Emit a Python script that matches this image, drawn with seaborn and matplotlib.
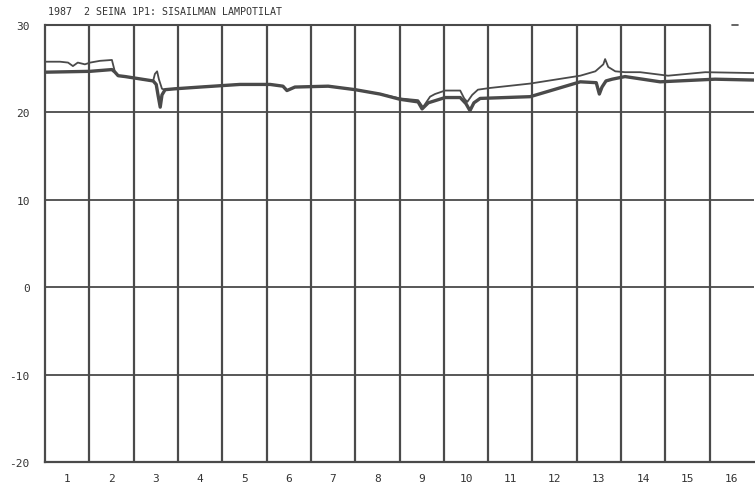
import matplotlib
matplotlib.use("Agg")
import matplotlib.pyplot as plt
import seaborn as sns
import pandas as pd

# Indoor air temperatures, time in days from start of the record
upper_days = [0.00, 0.34, 0.52, 0.63, 0.74, 0.90, 1.02, 1.24, 1.51, 1.58, 1.65, 1.81,
              2.44, 2.48, 2.53, 2.57, 2.64, 2.71, 2.93, 3.50, 4.40, 5.08, 5.37, 5.46,
              5.64, 6.39, 7.00, 7.56, 8.01, 8.42, 8.53, 8.69, 8.80, 9.03, 9.37, 9.46,
              9.53, 9.64, 9.77, 10.05, 10.95, 12.08, 12.42, 12.60, 12.64, 12.71, 12.87,
              13.09, 13.43, 14.06, 14.90, 16.00]
upper_temp = [25.8, 25.8, 25.7, 25.3, 25.7, 25.5, 25.7, 25.9, 26.0, 24.6, 24.2, 24.1,
              23.6, 24.4, 24.7, 23.8, 22.7, 22.6, 22.7, 22.9, 23.2, 23.2, 23.0, 22.5,
              22.9, 23.0, 22.6, 22.1, 21.6, 21.4, 20.6, 21.8, 22.1, 22.5, 22.5, 21.6,
              21.2, 22.0, 22.6, 22.8, 23.3, 24.2, 24.7, 25.5, 26.1, 25.2, 24.7,
              24.6, 24.6, 24.2, 24.6, 24.5]

lower_days = [0.00, 1.02, 1.51, 1.58, 1.65, 1.81, 2.44, 2.51, 2.55, 2.60, 2.64, 2.71,
              2.93, 3.50, 4.40, 5.08, 5.37, 5.46, 5.64, 6.39, 7.00, 7.56, 8.01, 8.42,
              8.51, 8.65, 9.03, 9.37, 9.50, 9.59, 9.68, 9.82, 10.95, 12.08, 12.44,
              12.51, 12.57, 12.66, 12.80, 13.09, 13.88, 15.12, 16.00]
lower_temp = [24.6, 24.7, 24.9, 24.6, 24.2, 24.1, 23.6, 23.2, 22.0, 20.6, 22.0, 22.6,
              22.7, 22.9, 23.2, 23.2, 23.0, 22.5, 22.9, 23.0, 22.6, 22.1, 21.5, 21.2,
              20.4, 21.1, 21.7, 21.7, 21.0, 20.2, 21.1, 21.6, 21.8, 23.5, 23.4,
              22.1, 22.9, 23.6, 23.8, 24.1, 23.5, 23.8, 23.7]

day_labels = [str(d) for d in range(1, 17)]
y_ticks = [30, 20, 10, 0, -10, -20]
title = "1987  2 SEINA 1P1: SISAILMAN LAMPOTILAT"

sns.set_style("white")
plt.rcParams["font.family"] = ["DejaVu Sans Mono"]

ink = "#4a4a4a"
fig = plt.figure(figsize=(7.55, 4.89), dpi=100)
ax = fig.add_axes([45 / 755, 26 / 489, 709 / 755, 437 / 489])

df_up = pd.DataFrame({"day": upper_days, "temp": upper_temp})
df_lo = pd.DataFrame({"day": lower_days, "temp": lower_temp})
sns.lineplot(data=df_up, x="day", y="temp", ax=ax, sort=False,
             color=ink, linewidth=1.3, zorder=3)
sns.lineplot(data=df_lo, x="day", y="temp", ax=ax, sort=False,
             color=ink, linewidth=2.4, zorder=3)

ax.set_xlim(0, 16)
ax.set_ylim(-20, 30)

# day boundaries and temperature grid
for d in range(1, 16):
    ax.axvline(d, color=ink, linewidth=1.6, zorder=1)
for v in [-10, 0, 10, 20]:
    ax.axhline(v, color=ink, linewidth=1.3, zorder=1)
ax.plot([0, 15], [30, 30], color=ink, linewidth=1.5, clip_on=False, zorder=1)
ax.plot([15.5, 15.65], [30, 30], color=ink, linewidth=1.2, clip_on=False, zorder=1)

for side in ["top", "right"]:
    ax.spines[side].set_visible(False)
for side in ["left", "bottom"]:
    ax.spines[side].set_color(ink)
    ax.spines[side].set_linewidth(1.6)

ax.set_xticks([d + 0.5 for d in range(16)])
ax.set_xticklabels(day_labels)
ax.set_yticks(y_ticks)
ax.set_yticklabels([str(v) for v in y_ticks])
ax.tick_params(axis="x", length=0, pad=8, labelsize=8, labelcolor="#333333")
ax.tick_params(axis="y", length=0, pad=11, labelsize=8, labelcolor="#333333")
ax.set_xlabel("")
ax.set_ylabel("")

fig.text(48 / 755, 1 - 12 / 489, title, fontsize=7.2, color="#333333",
         ha="left", va="center")

fig.savefig("out.png", dpi=100)
